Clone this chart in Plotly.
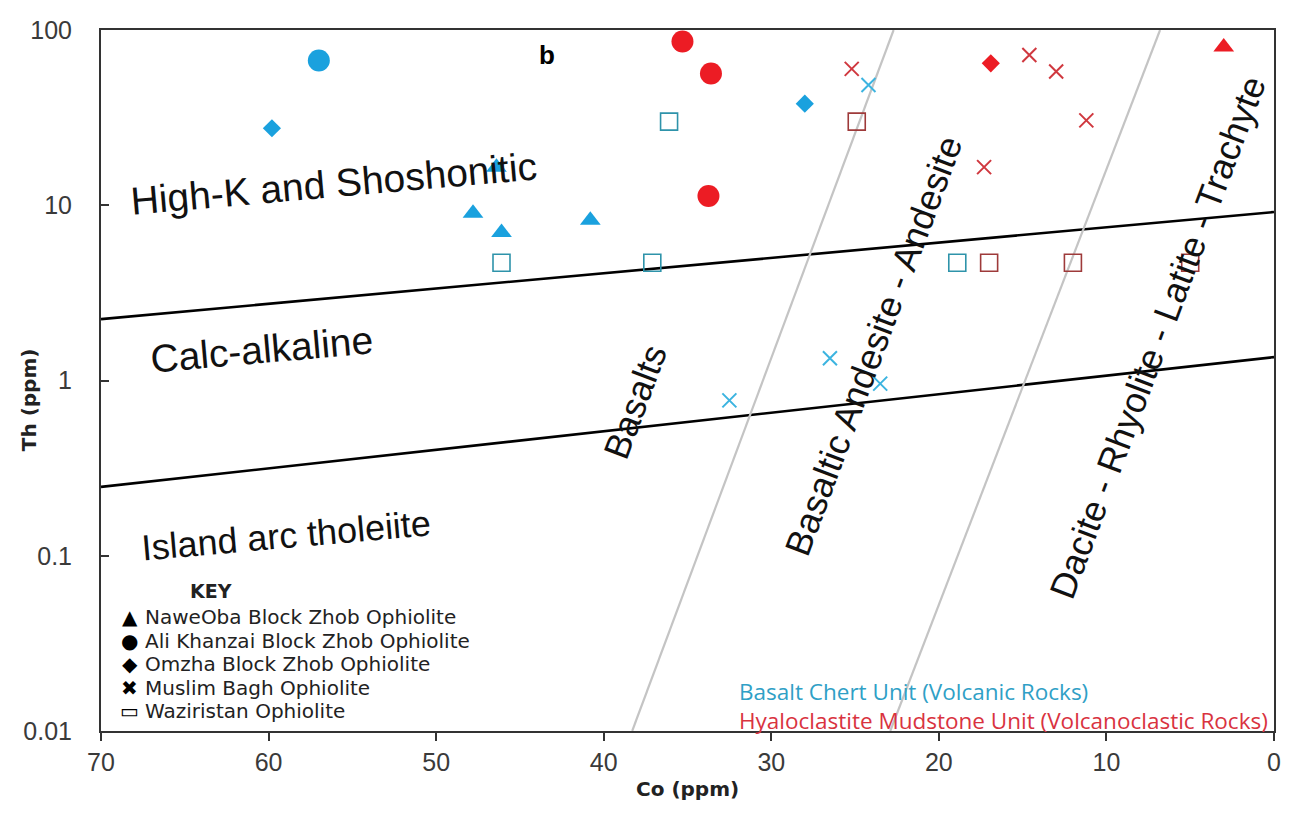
import plotly.graph_objects as go

# ---- Sample data: Co (ppm) vs Th (ppm) ----
# Basalt Chert Unit (volcanic rocks)
bc_naweoba_co = [47.8, 46.1, 40.8, 46.4]
bc_naweoba_th = [9.0, 7.0, 8.2, 16.5]
bc_alikhanzai_co = [57.0]
bc_alikhanzai_th = [67.0]
bc_omzha_co = [59.8, 28.0]
bc_omzha_th = [27.5, 38.0]
bc_muslimbagh_co = [24.2, 26.5, 23.5, 32.5]
bc_muslimbagh_th = [48.5, 1.34, 0.96, 0.77]
bc_waziristan_co = [36.1, 46.1, 37.1, 18.9]
bc_waziristan_th = [30.0, 4.7, 4.7, 4.7]

# Hyaloclastite Mudstone Unit (volcanoclastic rocks)
hm_naweoba_co = [3.0]
hm_naweoba_th = [80.0]
hm_alikhanzai_co = [35.3, 33.6, 33.75]
hm_alikhanzai_th = [86.0, 56.5, 11.3]
hm_omzha_co = [16.9]
hm_omzha_th = [64.5]
hm_muslimbagh_co = [25.2, 14.6, 13.0, 11.2, 17.3]
hm_muslimbagh_th = [60.0, 72.0, 58.0, 30.5, 16.5]
hm_waziristan_co = [24.9, 17.0, 12.0, 5.0]
hm_waziristan_th = [30.0, 4.7, 4.7, 4.7]

# ---- Field boundaries ----
shoshonitic_co = [70, 0]
shoshonitic_th = [2.24, 9.15]
calcalk_co = [70, 0]
calcalk_th = [0.247, 1.36]
basalt_co = [38.3, 22.7]
basalt_th = [0.01, 100]
andesite_co = [22.9, 6.8]
andesite_th = [0.01, 100]

x_ticks = [70, 60, 50, 40, 30, 20, 10, 0]
y_ticks = [0.01, 0.1, 1, 10, 100]
y_tick_text = ["0.01", "0.1", "1", "10", "100"]

key_labels = [
    "NaweOba Block Zhob Ophiolite",
    "Ali Khanzai Block Zhob Ophiolite",
    "Omzha Block Zhob Ophiolite",
    "Muslim Bagh Ophiolite",
    "Waziristan Ophiolite",
]
key_glyphs = ["\u25B2", "\u25CF", "\u25C6", "\u2716", "\u25AD"]

CYAN = "#1AA1DE"
CYAN_X = "#3CB4E0"
CYAN_SQ = "#2E93AA"
RED = "#EC1C24"
RED_X = "#D0383F"
RED_SQ = "#9E3A3A"

W, H = 1293, 814
L, R, T, B = 101, 16, 30, 83
PW, PH = W - L - R, H - T - B


def px(xp):
    return (xp - L) / PW


def py(yp):
    return (H - B - yp) / PH


fig = go.Figure()

# boundary lines
for co, th, col, wd in [
    (shoshonitic_co, shoshonitic_th, "black", 2.6),
    (calcalk_co, calcalk_th, "black", 2.6),
    (basalt_co, basalt_th, "#C4C4C4", 2.2),
    (andesite_co, andesite_th, "#C4C4C4", 2.2),
]:
    fig.add_trace(go.Scatter(x=co, y=th, mode="lines",
                             line=dict(color=col, width=wd),
                             showlegend=False, hoverinfo="skip"))


def pts(co, th, symbol, size, color, line_color=None, line_width=0):
    fig.add_trace(go.Scatter(
        x=co, y=th, mode="markers", showlegend=False,
        marker=dict(symbol=symbol, size=size, color=color,
                    line=dict(color=line_color or color, width=line_width)),
    ))


# Basalt Chert Unit
pts(bc_naweoba_co, bc_naweoba_th, "triangle-up", 18, CYAN)
pts(bc_alikhanzai_co, bc_alikhanzai_th, "circle", 22, CYAN)
pts(bc_omzha_co, bc_omzha_th, "diamond", 14, CYAN)
pts(bc_muslimbagh_co, bc_muslimbagh_th, "x-thin-open", 14, CYAN_X, CYAN_X, 2)
pts(bc_waziristan_co, bc_waziristan_th, "square-open", 17, CYAN_SQ, CYAN_SQ, 1.6)
# Hyaloclastite Mudstone Unit
pts(hm_naweoba_co, hm_naweoba_th, "triangle-up", 18, RED)
pts(hm_alikhanzai_co, hm_alikhanzai_th, "circle", 22, RED)
pts(hm_omzha_co, hm_omzha_th, "diamond", 14, RED)
pts(hm_muslimbagh_co, hm_muslimbagh_th, "x-thin-open", 14, RED_X, RED_X, 2)
pts(hm_waziristan_co, hm_waziristan_th, "square-open", 17, RED_SQ, RED_SQ, 1.6)

ann = []


def field_font(size):
    return dict(family="Liberation Sans, Arial", size=size, color="#111111")


def label(text, xp, yp, angle, font, xanchor="center", align="center"):
    ann.append(dict(text=text, x=px(xp), y=py(yp), xref="paper", yref="paper",
                    showarrow=False, textangle=angle, font=font, align=align,
                    xanchor=xanchor, yanchor="middle"))


label("High-K and Shoshonitic", 335, 184, -5, field_font(39))
label("Calc-alkaline", 262, 349, -5, field_font(39))
label("Island arc tholeiite", 286, 535, -5, field_font(36))
label("Basalts", 636, 402, -69.5, field_font(36))
label("Basaltic Andesite - Andesite", 876, 346, -69.5, field_font(36))
label("Dacite - Rhyolite - Latite - Trachyte", 1160, 337, -69.5, field_font(36))
label("<b>b</b>", 548, 55, 0, dict(family="Liberation Sans, Arial", size=26, color="black"))

# key
key_font = dict(family="DejaVu Sans", size=20, color="#222222")
label("<b>KEY</b>", 211, 591, 0, dict(family="DejaVu Sans", size=19, color="#222222"))
key_rows = [617, 640.5, 664, 687.5, 711]
for glyph, text, yp in zip(key_glyphs, key_labels, key_rows):
    label(glyph, 130, yp, 0, dict(family="DejaVu Sans", size=20, color="black"))
    label(text, 143, yp, 0, key_font, xanchor="left")

# unit colour notes (two coloured lines in one block)
units_note = ('<span style="color:#2FA0C6">Basalt Chert Unit (Volcanic Rocks)</span><br>'
              '<span style="color:#D9333F">Hyaloclastite Mudstone Unit (Volcanoclastic Rocks)</span>')
label(units_note, 739, 705.5, 0, dict(family="Open Sans", size=22.5, color="#D9333F"),
      xanchor="left", align="left")

# axis titles
label("<b>Th (ppm)</b>", 29, 400, -90, dict(family="DejaVu Sans", size=20, color="#222222"))
label("<b>Co (ppm)</b>", 689, 789, 0, dict(family="DejaVu Sans", size=20, color="#222222"))

tick_font = dict(family="Liberation Sans, Arial", size=25, color="#3A3A3A")

fig.update_layout(
    width=W, height=H,
    margin=dict(l=L, r=R, t=T, b=B),
    paper_bgcolor="white", plot_bgcolor="white",
    annotations=ann,
    xaxis=dict(range=[70, 0], tickvals=x_ticks, ticks="outside", ticklen=8,
               tickwidth=2, tickcolor="#333333", showline=True, linecolor="#333333",
               linewidth=2, mirror=True, showgrid=False, zeroline=False,
               tickfont=tick_font),
    yaxis=dict(type="log", range=[-2, 2], tickvals=y_ticks, ticktext=y_tick_text,
               ticks="inside", ticklen=8, tickwidth=1.5, tickcolor="#333333",
               showline=True, linecolor="#333333", linewidth=2, mirror=True,
               showgrid=False, zeroline=False, tickfont=tick_font,
               ticklabelstandoff=22),
)

fig.write_html("out.html")
